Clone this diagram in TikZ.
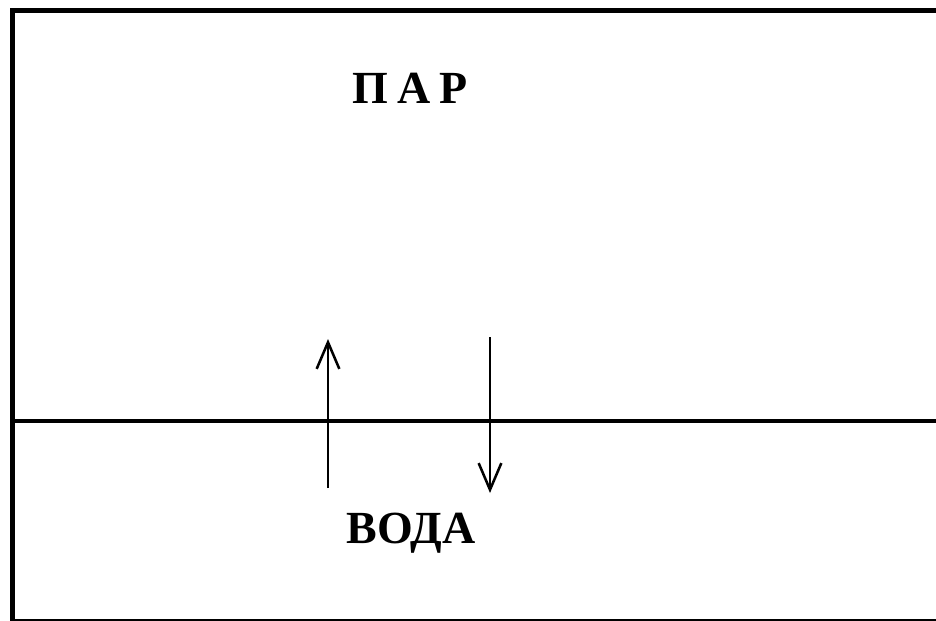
\documentclass[tikz,border=0pt]{standalone}
\usepackage{fontspec}
\setmainfont{Liberation Serif}
\usetikzlibrary{arrows.meta}
\tikzset{
  frame/.style={line width=3.6pt},
  surface/.style={line width=2.6pt},
  flow/.style={line width=1.8pt,-{Straight Barb[length=20pt,width=17pt,line width=1.9pt]}},
  lbl/.style={font=\fontsize{34.5}{40}\selectfont\bfseries,inner sep=0pt,anchor=base}
}
\begin{document}
\begin{tikzpicture}[x=0.75pt,y=-0.75pt]
\useasboundingbox (0,0) rectangle (936,621);
\fill[white] (0,0) rectangle (936,621);
\draw[frame] (940,10.5) -- (12.5,10.5) -- (12.5,621) -- (940,621);
\coordinate (sl) at (12,421);
\coordinate (sr) at (940,421);
\draw[surface] (sl) -- (sr);
\coordinate (u1) at (328,488);
\coordinate (u2) at (328,339);
\coordinate (d1) at (490,337);
\coordinate (d2) at (490,493);
\draw[flow] (u1) -- (u2);
\draw[flow] (d1) -- (d2);
\node[lbl] (par) at (410,103) {П\hspace{0.2em}А\hspace{0.2em}Р};
\node[lbl] (voda) at (411,543) {ВОДА};
\end{tikzpicture}
\end{document}
